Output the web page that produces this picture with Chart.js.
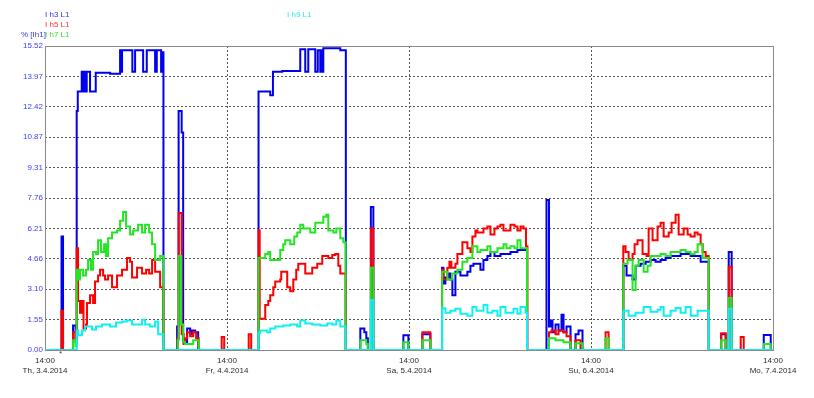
<!DOCTYPE html>
<html>
<head>
<meta charset="utf-8">
<script src="https://cdn.jsdelivr.net/npm/chart.js@4.4.1/dist/chart.umd.min.js"></script>
<style>
  html, body { margin: 0; padding: 0; background: #fff; }
  #wrap { position: relative; width: 814px; height: 398px; }
  .lbl { position: absolute; font: 8px "Liberation Sans", Arial, sans-serif; line-height: 10px; white-space: nowrap; }
</style>
</head>
<body>
<div id="wrap">
  <canvas id="chart"></canvas>
  <div class="lbl" style="left:45px;top:10px;color:#3535ff">I h3 L1</div>
  <div class="lbl" style="left:45px;top:20px;color:#ff3030">I h5 L1</div>
  <div class="lbl" style="left:21px;top:30px;color:#3535ff">% [Ih1]</div>
  <div class="lbl" style="left:45px;top:30px;color:#30dd30">I h7 L1</div>
  <div class="lbl" style="left:287px;top:10px;color:#30e8e8">I h9 L1</div>
  <div class="lbl" style="left:59px;top:349px;color:#444">*</div>
</div>
<script>
// x = hours since Th 3.4.2014 14:00, y = % of Ih1
const dayLabels = ['Th, 3.4.2014', 'Fr, 4.4.2014', 'Sa, 5.4.2014', 'Su, 6.4.2014', 'Mo, 7.4.2014'];
const yTickLabels = ['0.00', '1.55', '3.10', '4.66', '6.21', '7.76', '9.31', '10.87', '12.42', '13.97', '15.52'];
const Y_MAX = 15.52;

const h3Hours = [0, 2.18, 2.38, 3.70, 4.03, 4.18, 4.32, 4.84, 4.95, 5.06, 5.17, 5.28, 5.41, 5.50, 5.94, 6.69, 8.58, 9.90, 10.03, 10.16, 11.52, 11.88, 12.94, 13.42, 14.52, 14.74, 15.31, 15.44, 15.62,
  17.42, 17.62, 18.02, 18.22, 18.74, 19.14, 19.40, 19.80, 20.20,
  28.16, 29.70, 30.06, 31.28, 33.66, 34.32, 34.72, 35.64, 35.97, 36.30, 36.43, 36.56, 36.70, 38.94, 39.67,
  41.58, 42.11, 42.37, 42.57, 42.97, 43.30, 47.26, 47.92, 49.76, 50.82,
  52.36, 52.54, 52.80, 53.20, 53.46, 53.72, 54.12, 54.78, 55.70, 56.10, 56.50, 57.42, 57.82, 58.34, 58.74, 59.27, 60.06, 61.38, 62.30, 63.56,
  66.13, 66.46, 66.66, 66.92, 67.32, 67.72, 68.11, 68.38, 68.77, 69.30, 69.96, 70.36, 70.88,
  76.26, 76.69, 77.48, 77.88, 78.54, 79.20, 79.86, 80.52, 81.18, 81.84, 82.50, 83.82, 85.14, 86.46, 87.52,
  89.17, 89.76, 90.16, 90.55, 94.78, 95.70, 96];
const h3Values = [0, 5.8, 0, 1.25, 0.6, 12.2, 13.2, 14.2, 13.2, 14.2, 13.2, 14.2, 13.2, 14.2, 13.2, 14.15, 14.1, 15.3, 14.2, 15.3, 14.2, 15.3, 14.2, 15.3, 14.2, 15.3, 14.2, 15.2, 0,
  1.2, 12.2, 11.1, 0.4, 1.1, 0.8, 1.0, 0.9, 0,
  13.2, 13.0, 14.2, 14.25, 15.35, 14.2, 15.35, 14.2, 15.3, 14.2, 15.3, 14.2, 15.4, 15.3, 0,
  1.1, 0.9, 0.6, 0, 7.3, 0, 0.75, 0, 0.8, 0,
  4.2, 3.4, 3.7, 3.9, 3.6, 2.8, 4.0, 3.8, 4.0, 4.3, 4.4, 4.1, 4.6, 4.8, 5.0, 4.8, 4.9, 5.0, 5.1, 0,
  7.66, 1.2, 1.5, 0.9, 1.3, 1.0, 1.8, 0.9, 1.2, 0, 0.8, 1.0, 0,
  4.3, 3.8, 3.6, 4.3, 4.4, 4.5, 4.6, 4.5, 4.6, 4.7, 4.8, 4.9, 4.8, 4.5, 0,
  0.8, 0, 5.0, 0, 0.77, 0, 0];

const h5Hours = [0, 2.18, 2.38, 3.70, 4.03, 4.18, 4.36, 4.62, 4.88, 5.08, 5.41, 5.54, 5.94, 6.34, 6.60, 7.00, 7.26, 7.66, 7.92, 8.32, 8.84, 9.50, 10.16, 10.82, 11.22, 11.48, 12.14, 12.80, 13.33, 13.73, 14.12, 14.52, 15.18, 15.62,
  17.49, 17.62, 18.02, 18.28, 18.48, 18.74, 19.14, 19.54, 19.93, 20.26, 23.30, 23.63, 26.86, 27.19,
  28.16, 28.31, 29.04, 29.44, 29.70, 30.10, 30.36, 31.02, 31.15, 31.94, 32.34, 32.74, 33.13, 33.40, 34.32, 35.24, 35.90, 36.56, 37.36, 37.88, 38.28, 38.68, 38.94, 39.64,
  42.97, 43.30, 49.76, 50.82,
  52.36, 52.54, 53.06, 53.33, 53.59, 54.12, 54.38, 55.04, 55.70, 56.10, 56.36, 56.76, 57.02, 57.82, 58.34, 58.74, 59.27, 59.66, 60.06, 60.46, 61.38, 61.91, 62.30, 62.70, 63.10, 63.43, 63.62,
  66.46, 66.79, 67.32, 67.72, 68.38, 68.77, 69.30, 69.96, 70.62, 73.92, 74.32,
  76.26, 76.56, 76.96, 77.48, 77.75, 78.14, 78.80, 79.33, 79.60, 80.12, 80.78, 81.18, 81.58, 82.24, 82.63, 83.16, 83.56, 84.22, 84.74, 85.14, 85.67, 86.06, 86.46, 86.72, 87.12, 87.52,
  89.17, 89.76, 90.16, 90.55, 91.74, 92.14, 96];
const h5Values = [0, 2.0, 0, 0.9, 0.4, 5.2, 2.5, 1.9, 2.5, 1.1, 1.3, 2.4, 2.8, 2.4, 3.5, 3.8, 4.1, 3.8, 3.6, 3.8, 3.2, 3.8, 4.1, 4.7, 4.5, 3.7, 4.2, 3.9, 4.1, 3.9, 4.6, 4.0, 3.2, 0,
  0.6, 7.0, 0.8, 0.3, 0.6, 0.9, 0.7, 0.9, 0.6, 0, 0.66, 0, 0.8, 0,
  6.1, 1.6, 2.3, 2.5, 2.8, 3.2, 3.5, 3.6, 4.0, 3.2, 3.0, 3.6, 4.1, 4.4, 3.9, 4.2, 4.4, 4.8, 4.7, 4.85, 4.9, 4.3, 3.9, 0,
  6.2, 0, 0.9, 0,
  4.1, 3.6, 4.2, 4.5, 4.2, 4.4, 4.9, 5.5, 5.2, 5.0, 5.8, 6.1, 6.0, 6.2, 6.3, 5.9, 6.2, 6.3, 6.4, 6.1, 6.4, 6.3, 6.1, 6.3, 6.2, 5.3, 0,
  0.9, 1.0, 0.8, 1.0, 0.9, 0.7, 0, 0.5, 0, 0.9, 0,
  5.3, 5.0, 4.6, 4.9, 5.4, 5.6, 4.9, 4.8, 6.2, 5.6, 6.3, 6.5, 5.8, 6.0, 6.5, 6.9, 5.9, 6.2, 5.9, 5.8, 6.0, 5.9, 5.4, 5.0, 4.8, 0,
  0.85, 0, 4.25, 0, 0.67, 0, 0];

const h7Hours = [0, 3.70, 4.03, 4.18, 4.36, 4.62, 5.02, 5.41, 5.68, 6.07, 6.34, 6.73, 7.00, 7.39, 7.79, 8.05, 8.32, 8.84, 9.50, 9.90, 10.30, 10.69, 11.22, 11.62, 12.28, 12.80, 13.20, 13.73, 14.12, 14.52, 15.18, 15.62,
  17.49, 17.62, 17.95, 18.22, 18.48, 19.54, 20.26,
  28.16, 29.04, 29.44, 29.70, 31.02, 31.42, 31.68, 32.34, 32.87, 33.26, 33.66, 34.06, 34.98, 35.64, 36.70, 37.09, 37.36, 38.02, 38.41, 38.94, 39.34, 39.64,
  41.58, 42.37, 42.57, 42.97, 43.30, 47.26, 47.92, 49.76, 50.82,
  52.36, 53.06, 53.72, 54.38, 55.04, 55.70, 56.36, 57.02, 57.42, 58.34, 58.74, 59.66, 60.46, 60.85, 61.38, 61.91, 62.30, 62.70, 63.56,
  66.46, 67.32, 68.38, 69.30, 69.96, 70.88, 73.92, 74.32,
  76.26, 76.82, 77.48, 77.88, 78.28, 78.94, 79.46, 79.86, 81.18, 81.84, 82.50, 83.82, 84.48, 85.14, 85.67, 86.06, 86.72, 87.52,
  89.17, 89.76, 90.16, 90.55, 94.78, 95.70, 96];
const h7Values = [0, 0.5, 0.2, 4.1, 3.6, 4.1, 3.8, 4.1, 4.6, 4.1, 5.0, 4.9, 5.6, 5.0, 5.4, 4.8, 5.7, 6.0, 6.1, 6.6, 7.05, 6.3, 5.9, 6.1, 6.4, 6.0, 6.4, 6.0, 5.4, 4.6, 4.8, 0,
  0.5, 4.8, 1.3, 0.4, 0.3, 0.5, 0,
  4.7, 4.9, 5.0, 4.6, 5.1, 5.4, 5.6, 5.4, 5.8, 6.0, 6.4, 6.2, 6.0, 6.5, 6.8, 6.9, 6.1, 6.0, 6.2, 5.7, 5.5, 0,
  0.5, 0.3, 0, 4.2, 0, 0.4, 0, 0.5, 0,
  4.0, 3.6, 3.9, 4.1, 4.5, 4.7, 5.3, 5.0, 5.1, 5.3, 5.0, 5.2, 5.4, 5.2, 5.3, 5.2, 5.6, 5.2, 0,
  0.6, 0.5, 0.4, 0, 0.35, 0, 0.6, 0,
  4.4, 4.6, 3.06, 4.3, 4.6, 4.0, 4.3, 4.8, 4.9, 4.8, 5.0, 5.1, 5.0, 4.9, 5.0, 5.4, 4.7, 0,
  0.5, 0, 2.65, 0, 0.3, 0, 0];

const h9Hours = [0, 4.18, 4.36, 4.88, 5.28, 6.20, 6.73, 7.52, 8.58, 9.37, 10.16, 10.82, 11.48, 12.80, 13.20, 13.86, 14.52, 14.92, 15.62,
  28.16, 28.38, 29.30, 29.70, 30.36, 31.42, 32.34, 33.26, 33.66, 34.32, 35.24, 36.30, 37.22, 37.88, 38.41, 38.94, 39.64,
  42.97, 43.30,
  52.36, 52.80, 53.46, 54.12, 54.78, 55.70, 56.36, 56.89, 57.82, 58.34, 59.00, 59.66, 60.06, 60.72, 61.78, 62.30, 62.70, 63.36, 63.56,
  76.26, 76.96, 77.88, 78.94, 79.86, 80.78, 81.18, 81.58, 82.50, 83.16, 83.82, 84.48, 85.14, 86.06, 87.52,
  90.16, 90.55, 96];
const h9Values = [0, 1.0, 0.75, 1.0, 1.2, 1.05, 1.2, 1.3, 1.2, 1.4, 1.45, 1.5, 1.3, 1.55, 1.3, 1.2, 1.45, 0.8, 0,
  0.85, 1.0, 0.9, 1.1, 1.2, 1.25, 1.3, 1.2, 1.5, 1.35, 1.3, 1.25, 1.35, 1.3, 1.5, 1.2, 0,
  2.55, 0,
  2.13, 1.9, 2.0, 2.1, 1.85, 1.75, 2.2, 2.0, 2.3, 1.9, 2.0, 1.75, 2.2, 1.9, 2.1, 1.85, 2.2, 1.9, 0,
  2.0, 1.75, 1.9, 2.2, 1.95, 2.05, 2.2, 1.75, 2.0, 2.15, 1.9, 2.2, 1.75, 2.0, 0,
  2.1, 0, 0];

const toPoints = (hours, values) => hours.map((h, i) => ({ x: h, y: values[i] }));

const series = [
  { label: 'I h3 L1', hours: h3Hours, values: h3Values, color: '#0000ee', order: 4 },
  { label: 'I h5 L1', hours: h5Hours, values: h5Values, color: '#ff0000', order: 3 },
  { label: 'I h7 L1', hours: h7Hours, values: h7Values, color: '#22e622', order: 2 },
  { label: 'I h9 L1', hours: h9Hours, values: h9Values, color: '#10f0f0', order: 1 },
];

// solid frame round the plot, drawn under the data
const framePlugin = {
  id: 'frame',
  beforeDatasetsDraw(chart) {
    const { ctx, chartArea: a } = chart;
    ctx.save();
    ctx.strokeStyle = '#8a8a8a';
    ctx.lineWidth = 1;
    ctx.strokeRect(Math.round(a.left) + 0.5, Math.round(a.top) + 0.5, Math.round(a.right - a.left), Math.round(a.bottom - a.top));
    ctx.restore();
  }
};

new Chart(document.getElementById('chart'), {
  type: 'line',
  data: {
    datasets: series.map(s => ({
      label: s.label,
      data: toPoints(s.hours, s.values),
      borderColor: s.color,
      backgroundColor: s.color,
      borderWidth: 2,
      stepped: true,
      pointRadius: 0,
      fill: false,
      order: s.order,
    })),
  },
  options: {
    responsive: true,
    maintainAspectRatio: false,
    animation: false,
    layout: { padding: { left: 0, right: 41, top: 46, bottom: 0 } },
    plugins: { legend: { display: false }, tooltip: { enabled: false } },
    scales: {
      x: {
        type: 'linear',
        min: 0,
        max: 96,
        afterBuildTicks: s => { s.ticks = dayLabels.map((_, i) => ({ value: i * 24 })); },
        afterFit: s => { s.height = 48; },
        ticks: {
          autoSkip: false,
          maxRotation: 0,
          padding: 5,
          color: '#2a2a2a',
          font: { family: '"Liberation Sans", Arial, sans-serif', size: 8, lineHeight: 1.35 },
          callback: (v) => ['14:00', dayLabels[Math.round(v / 24)]],
        },
        grid: { color: '#555', drawTicks: false, lineWidth: 1 },
        border: { display: false, dash: [2, 2] },
      },
      y: {
        min: 0,
        max: Y_MAX,
        afterBuildTicks: s => { s.ticks = yTickLabels.map((_, i) => ({ value: i * Y_MAX / 10 })); },
        afterFit: s => { s.width = 45; },
        ticks: {
          padding: 2,
          color: '#3c3cff',
          font: { family: '"Liberation Sans", Arial, sans-serif', size: 8 },
          callback: (v) => yTickLabels[Math.round(v / (Y_MAX / 10))],
        },
        grid: { color: '#555', drawTicks: false, lineWidth: 1 },
        border: { display: false, dash: [2, 2] },
      },
    },
  },
  plugins: [framePlugin],
});
</script>
</body>
</html>
